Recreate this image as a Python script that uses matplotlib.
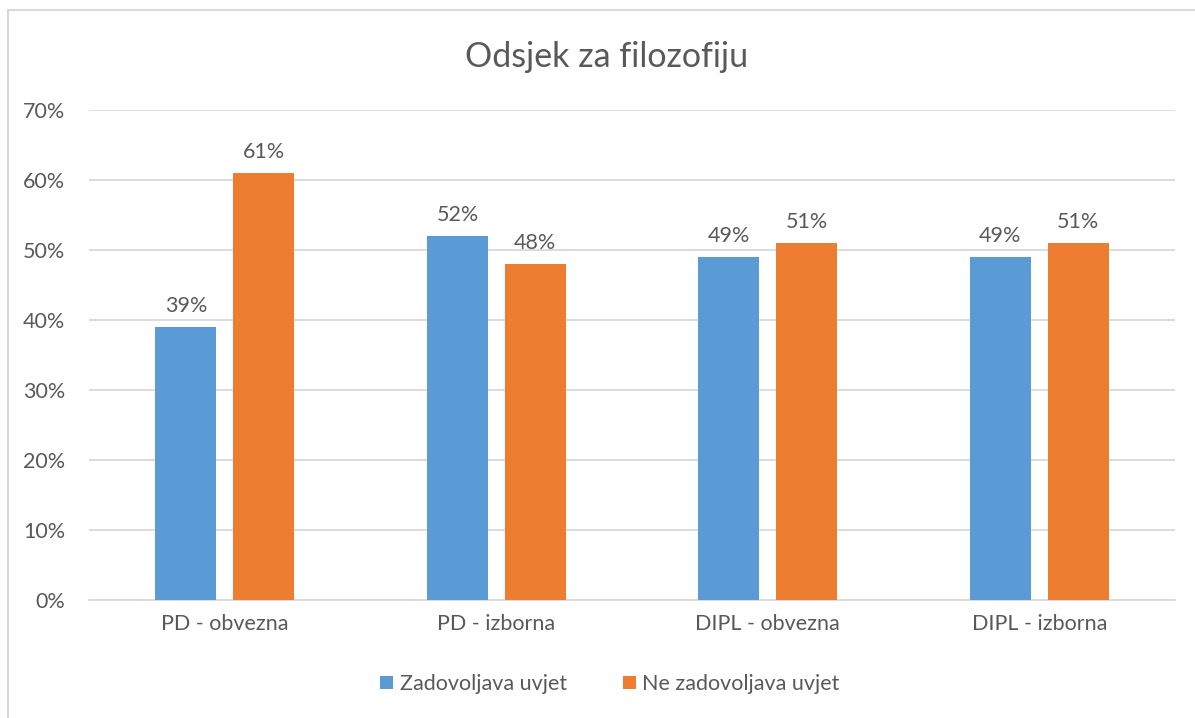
import matplotlib.pyplot as plt
import numpy as np
from matplotlib.patches import Rectangle

categories = ['PD - obvezna', 'PD - izborna', 'DIPL - obvezna', 'DIPL - izborna']
zadovoljava = [39, 52, 49, 49]
ne_zadovoljava = [61, 48, 51, 51]
series_names = ['Zadovoljava uvjet', 'Ne zadovoljava uvjet']

blue = '#5B9BD5'
orange = '#ED7D31'
text_col = '#595959'
grid_col = '#D9D9D9'

plt.rcParams['font.family'] = ['Lato', 'DejaVu Sans']

fig = plt.figure(figsize=(11.95, 7.18), dpi=100)
W, H = 1195, 718
ax = fig.add_axes([89 / W, 1 - 600 / H, (1175 - 89) / W, 490 / H])

# chart border (cut at right and bottom like the original)
fig.patches.append(Rectangle((8 / W, -0.1), 1.2, 1 - 10 / H + 0.1, transform=fig.transFigure,
                             fill=False, edgecolor=grid_col, linewidth=1.5))

x = np.arange(len(categories))
bw = 0.225
off = 0.143
b1 = ax.bar(x - off, zadovoljava, bw, color=blue, label=series_names[0], zorder=3)
b2 = ax.bar(x + off, ne_zadovoljava, bw, color=orange, label=series_names[1], zorder=3)

for bars, vals in ((b1, zadovoljava), (b2, ne_zadovoljava)):
    for r, v in zip(bars, vals):
        ax.annotate(f'{v}%', (r.get_x() + r.get_width() / 2, v), xytext=(0, 8),
                    textcoords='offset points', ha='center', va='bottom',
                    fontsize=15.5, color=text_col)

ax.set_xlim(-0.5, len(categories) - 0.5)
ax.set_ylim(0, 70)
ax.set_yticks(range(0, 71, 10))
ax.set_yticklabels([f'{t}%' for t in range(0, 71, 10)])
ax.set_xticks(x)
ax.set_xticklabels(categories)
ax.tick_params(axis='both', length=0, labelsize=15.5, colors=text_col)
ax.tick_params(axis='y', pad=17)
ax.tick_params(axis='x', pad=10)
ax.yaxis.grid(True, color=grid_col, linewidth=1.3, zorder=0)
for s in ['top', 'right', 'left']:
    ax.spines[s].set_visible(False)
ax.spines['bottom'].set_color(grid_col)
ax.spines['bottom'].set_linewidth(1.3)

fig.text(607 / W, 1 - 57 / H, 'Odsjek za filozofiju', ha='center', va='center',
         fontsize=24.5, color=text_col)

fig.legend(loc='center', bbox_to_anchor=(610 / W, 1 - 684 / H), ncol=2, frameon=False,
           fontsize=15.5, labelcolor=text_col, handlelength=0.6, handleheight=0.6,
           handletextpad=0.3, columnspacing=2.6)

fig.savefig('out.png', dpi=100)
